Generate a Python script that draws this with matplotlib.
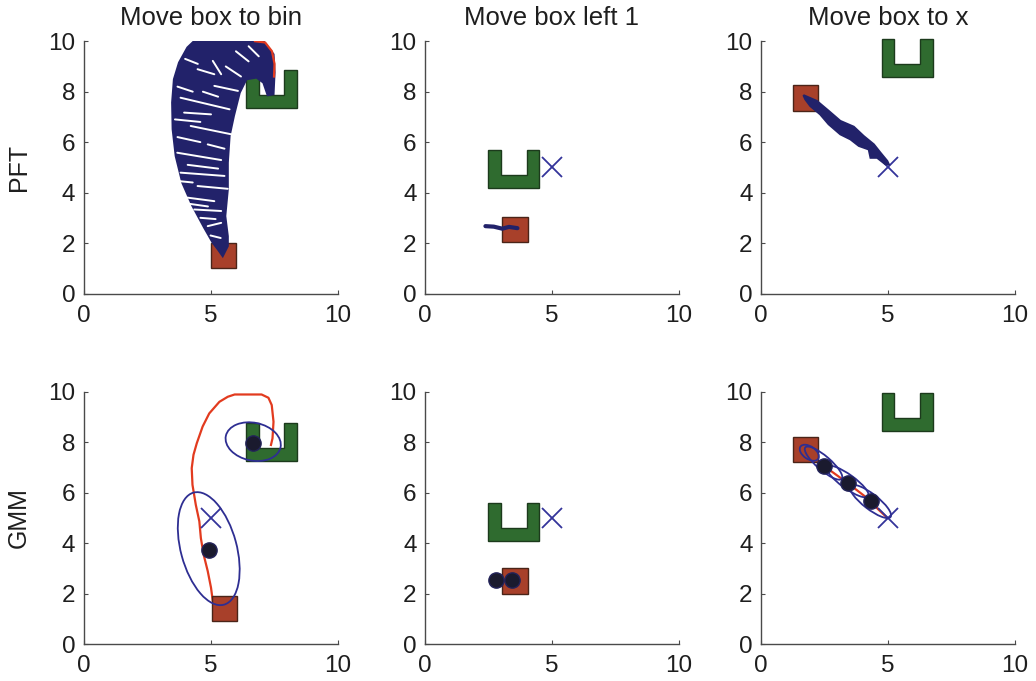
import matplotlib
matplotlib.use('Agg')
import matplotlib.pyplot as plt
from matplotlib.patches import Polygon, Rectangle, Ellipse

plt.rcParams['font.family'] = ['Liberation Sans', 'DejaVu Sans']

# column titles / row labels
titles = ['Move box to bin', 'Move box left 1', 'Move box to x']
row_names = ['PFT', 'GMM']

# lower-left corners of the box (side 1) and of the U-shaped bin (2 x 1.5)
# order: PFT bin, PFT left, PFT x, GMM bin, GMM left, GMM x
box_corner = [(5.0, 1.0), (3.05, 2.05), (1.25, 7.25),
              (5.05, 0.9), (3.05, 2.0), (1.25, 7.2)]
bin_corner = [(6.4, 7.35), (2.5, 4.2), (4.75, 8.6),
              (6.4, 7.25), (2.5, 4.1), (4.75, 8.45)]
goal = [(5.0, 5.0), (5.0, 5.0), (5.0, 5.0),
        (5.0, 5.0), (5.0, 5.0), (5.0, 5.0)]

# PFT, move box to bin: outline of the bundle of rollouts
pft_bin_x = [4.35, 7.08, 7.48, 7.52, 7.48, 7.25, 7.08, 6.81, 6.41, 6.15, 5.92, 5.75,
             5.68, 5.68, 5.58, 5.68, 5.68, 5.48, 5.29, 5.09, 4.75, 4.29, 3.89, 3.63,
             3.51, 3.49, 3.56, 3.76, 4.09]
pft_bin_y = [10.0, 10.0, 9.48, 8.76, 7.90, 7.86, 8.36, 8.56, 8.49, 7.96, 7.04, 6.24,
             5.19, 4.13, 3.07, 2.27, 1.88, 1.48, 1.75, 2.01, 2.61, 3.47, 4.39, 5.45,
             6.51, 7.57, 8.49, 9.15, 9.75]
# gaps between the individual rollouts (x0, y0, x1, y1)
pft_bin_gaps = [(5.09, 9.22, 5.42, 8.69), (4.49, 8.89, 5.15, 8.69),
                (5.15, 8.23, 6.08, 8.03), (3.82, 7.76, 5.75, 7.30),
                (3.96, 7.17, 5.02, 7.10), (4.22, 6.64, 5.82, 6.31),
                (4.89, 5.91, 5.55, 5.74), (3.69, 5.58, 5.42, 5.29),
                (3.82, 4.79, 5.55, 4.66), (4.49, 4.26, 5.68, 4.15),
                (4.09, 3.80, 5.15, 3.66), (4.36, 3.33, 5.42, 3.27),
                (4.89, 2.67, 5.42, 2.80), (6.0, 9.6, 6.5, 9.2),
                (5.6, 9.0, 6.2, 8.6), (4.0, 9.3, 4.5, 9.1),
                (6.5, 9.8, 6.9, 9.4), (3.7, 8.2, 4.3, 8.0),
                (4.7, 8.0, 5.3, 7.8), (3.6, 6.9, 4.6, 6.8),
                (3.7, 6.2, 4.6, 6.0), (4.1, 5.1, 5.3, 4.95),
                (3.8, 4.45, 4.3, 4.4), (4.2, 3.55, 4.9, 3.45),
                (4.6, 3.0, 5.2, 2.95), (5.0, 2.3, 5.4, 2.2)]
pft_bin_red_x = [6.75, 7.15, 7.42, 7.52, 7.5]
pft_bin_red_y = [10.0, 9.95, 9.6, 9.1, 8.6]

# PFT, move box left 1
pft_left_x = [2.38, 2.71, 3.04, 3.31, 3.64]
pft_left_y = [2.67, 2.65, 2.57, 2.64, 2.59]

# PFT, move box to x: band of rollouts
pft_x_band_x = [1.67, 2.20, 2.66, 3.12, 3.65, 4.04, 4.44, 4.70, 4.97, 5.03,
                4.90, 4.57, 4.31, 4.24, 3.85, 3.52, 3.12, 2.66, 2.33, 1.94, 1.74]
pft_x_band_y = [7.86, 7.63, 7.24, 6.84, 6.61, 6.24, 5.91, 5.58, 5.25, 5.12,
                5.12, 5.38, 5.38, 5.71, 5.85, 6.11, 6.31, 6.71, 7.10, 7.43, 7.70]

# GMM, move box to bin
gmm_bin_red_x = [5.3, 5.09, 5.02, 4.89, 4.73, 4.62, 4.56, 4.42, 4.29, 4.26, 4.33, 4.46,
                 4.69, 4.95, 5.35, 5.68, 5.95, 7.01, 7.28, 7.41, 7.48, 7.44, 7.38]
gmm_bin_red_y = [1.4, 1.70, 2.23, 2.89, 3.54, 4.20, 4.86, 5.52, 6.31, 6.97, 7.50, 7.96,
                 8.62, 9.14, 9.60, 9.80, 9.89, 9.89, 9.76, 9.47, 8.81, 8.15, 7.89]
gmm_bin_mu_x = [4.95, 6.68]
gmm_bin_mu_y = [3.72, 7.98]
# (cx, cy, width, height, angle)
gmm_bin_cov = [(4.93, 3.78, 2.2, 4.6, 15), (6.68, 8.02, 2.2, 1.5, -12)]

# GMM, move box left 1
gmm_left_red_x = [2.6, 3.1, 3.55]
gmm_left_red_y = [2.5, 2.52, 2.55]
gmm_left_mu_x = [2.78, 3.44]
gmm_left_mu_y = [2.52, 2.52]
gmm_left_cov = []

# GMM, move box to x
gmm_x_red_x = [1.85, 2.46, 3.41, 4.31, 4.6, 4.97]
gmm_x_red_y = [7.6, 7.07, 6.38, 5.68, 5.35, 5.0]
gmm_x_mu_x = [2.46, 3.41, 4.31]
gmm_x_mu_y = [7.07, 6.38, 5.68]
gmm_x_cov = [(1.9, 7.58, 0.85, 0.5, -35), (2.46, 7.17, 1.9, 0.55, -41),
             (3.41, 6.44, 2.0, 0.55, -36), (4.31, 5.65, 2.0, 0.6, -38)]

box_fc, box_ec = '#a8402a', '#4a2418'
bin_fc, bin_ec = '#2f6b2f', '#1c3a1c'
navy = '#22226a'
ell_c = '#2e2e92'
red_c = '#e23b1f'

lefts = [0.0806, 0.4102, 0.7346]
bottoms = [0.569, 0.0543]
w, h = 0.2452, 0.3705

fig = plt.figure(figsize=(10.36, 6.81), dpi=100)
axes = []
for r in range(2):
    for c in range(3):
        ax = fig.add_axes([lefts[c], bottoms[r], w, h])
        ax.set_xlim(0, 10)
        ax.set_ylim(0, 10)
        ax.set_xticks([0, 5, 10])
        ax.set_yticks([0, 2, 4, 6, 8, 10])
        for s in ['top', 'right']:
            ax.spines[s].set_visible(False)
        for s in ['left', 'bottom']:
            ax.spines[s].set_color('#4a4a4a')
            ax.spines[s].set_linewidth(1.0)
        ax.tick_params(direction='in', length=3, width=0.8, color='#4a4a4a',
                       labelsize=17.5, labelcolor='#1e1e1e')
        ax.tick_params(axis='x', pad=8)
        ax.tick_params(axis='y', pad=6)
        if r == 0:
            ax.set_title(titles[c], fontsize=18.5, pad=12, color='#1e1e1e')
        axes.append(ax)

for i, ax in enumerate(axes):
    bx, by = bin_corner[i]
    u = [(bx, by), (bx + 2, by), (bx + 2, by + 1.5), (bx + 1.5, by + 1.5),
         (bx + 1.5, by + 0.5), (bx + 0.5, by + 0.5), (bx + 0.5, by + 1.5), (bx, by + 1.5)]
    ax.add_patch(Polygon(u, closed=True, fc=bin_fc, ec=bin_ec, lw=1, zorder=2, clip_on=False))
    ax.add_patch(Rectangle(box_corner[i], 1, 1, fc=box_fc, ec=box_ec, lw=1, zorder=2))
    ax.plot(goal[i][0], goal[i][1], 'x', ms=15, mew=1.3, color='#34349a', zorder=3)

# PFT row
ax = axes[0]
ax.add_patch(Polygon(list(zip(pft_bin_x, pft_bin_y)), closed=True, fc=navy, ec=navy,
                     lw=1.5, zorder=4))
for x0, y0, x1, y1 in pft_bin_gaps:
    ax.plot([x0, x1], [y0, y1], color='white', lw=1.4, solid_capstyle='round', zorder=5)
ax.plot(pft_bin_red_x, pft_bin_red_y, color=red_c, lw=1.6, zorder=6)

axes[1].plot(pft_left_x, pft_left_y, color=navy, lw=3, solid_capstyle='round', zorder=4)

axes[2].add_patch(Polygon(list(zip(pft_x_band_x, pft_x_band_y)), closed=True, fc=navy,
                          ec=navy, lw=1.5, zorder=4))

# GMM row
gmm = [(gmm_bin_red_x, gmm_bin_red_y, gmm_bin_mu_x, gmm_bin_mu_y, gmm_bin_cov),
       (gmm_left_red_x, gmm_left_red_y, gmm_left_mu_x, gmm_left_mu_y, gmm_left_cov),
       (gmm_x_red_x, gmm_x_red_y, gmm_x_mu_x, gmm_x_mu_y, gmm_x_cov)]
for c, (rx, ry, mx, my, cov) in enumerate(gmm):
    ax = axes[3 + c]
    ax.plot(rx, ry, color=red_c, lw=1.6, zorder=1)
    for cx, cy, ew, eh, ang in cov:
        ax.add_patch(Ellipse((cx, cy), ew, eh, angle=ang, fill=False, ec=ell_c,
                             lw=1.3, zorder=4))
    ax.plot(mx, my, 'o', ms=11, mfc='#1a1a2e', mec='#23235a', mew=1, ls='none', zorder=5)

fig.text(0.018, bottoms[0] + h / 2, row_names[0], rotation=90, fontsize=18,
         ha='center', va='center', color='#1e1e1e')
fig.text(0.018, bottoms[1] + h / 2, row_names[1], rotation=90, fontsize=18,
         ha='center', va='center', color='#1e1e1e')

fig.savefig('out.png', dpi=100)
